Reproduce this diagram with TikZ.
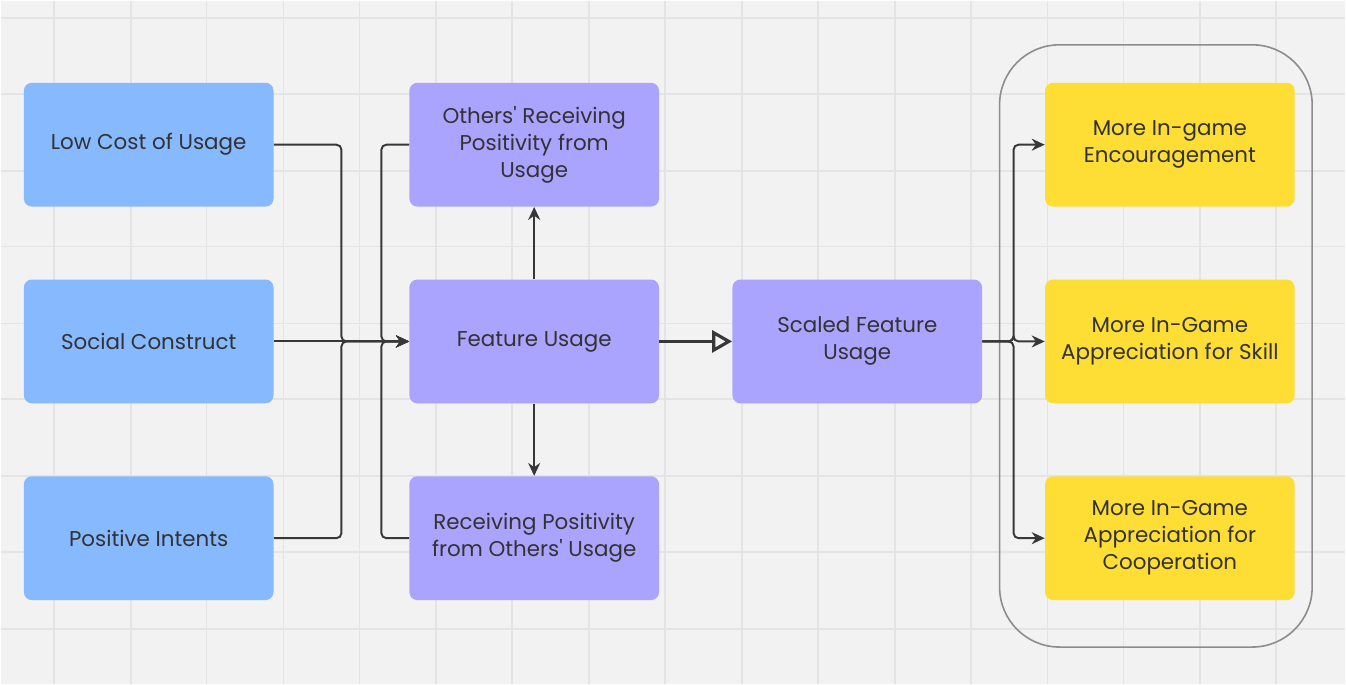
\documentclass[tikz,border=0pt]{standalone}
\usepackage{fontspec}
\setmainfont{Poppins}
\usepackage{tikz}
\usetikzlibrary{arrows.meta}
\usetikzlibrary{positioning}

\definecolor{canvas}{RGB}{242,242,242}
\definecolor{gridline}{RGB}{228,228,228}
\definecolor{boxblue}{RGB}{135,185,255}
\definecolor{boxviolet}{RGB}{171,164,255}
\definecolor{boxyellow}{RGB}{254,221,53}
\definecolor{inktext}{RGB}{50,50,50}
\definecolor{inkline}{RGB}{55,55,55}

\begin{document}
\begin{tikzpicture}
	[x=0.02cm,y=-0.02cm,
	every node/.style={rectangle,rounded corners=0.16cm,minimum width=5cm,minimum height=2.48cm,
		align=center,text=inktext,font=\fontsize{12.2}{15.4}\selectfont,inner sep=0pt},
	cause/.style={fill=boxblue},
	effect/.style={fill=boxviolet},
	outcome/.style={fill=boxyellow},
	link/.style={draw=inkline,line width=1.1pt,rounded corners=0.1cm,-{Stealth[length=0.26cm,width=0.24cm]}}]
	% canvas and grid
	\fill[canvas] (0,0) rectangle (1346,684);
	\foreach \gx in {53,130,206,283,359,436,512,589,665,742,818,895,971,1048,1124,1201,1277}
	\draw[gridline,line width=1pt] (\gx,0) -- (\gx,684);
	\foreach \gy in {17,93,170,246,323,399,476,552,629}
	\draw[gridline,line width=1pt] (0,\gy) -- (1346,\gy);
	% group round the outcomes
	\draw[draw=gray!90,line width=0.9pt,rounded corners=1.2cm] (1000,44) rectangle (1313,647);

	\node[cause] (low) at (148,144) {Low Cost of Usage};
	\node[cause] (social) at (148,341) {Social Construct};
	\node[cause] (intent) at (148,538) {Positive Intents};
	\node[effect] (others) at (534,144) {Others\textquotesingle\ Receiving\\Positivity from\\Usage};
	\node[effect] (usage) at (534,341) {Feature Usage};
	\node[effect] (receive) at (534,538) {Receiving Positivity\\from Others\textquotesingle\ Usage};
	\node[effect] (scaled) at (857.5,341) {Scaled Feature\\Usage};
	\node[outcome] (encour) at (1170.5,144) {More In-game\\Encouragement};
	\node[outcome] (skill) at (1170.5,341) {More In-Game\\Appreciation for Skill};
	\node[outcome] (coop) at (1170.5,538) {More In-Game\\Appreciation for\\Cooperation};

	\coordinate (lowbend) at (341,144);
	\coordinate (intentbend) at (341,538);
	\coordinate (othersbend) at (381,144);
	\coordinate (receivebend) at (381,538);
	\coordinate (splitbend) at (1014,341);

	% inputs into feature usage
	\foreach \from/\via/\side in {low/lowbend/east, intent/intentbend/east, others/othersbend/west, receive/receivebend/west}
	\draw[link] (\from.\side) -- (\via) -- (\via |- usage.west) -- (usage.west);
	\draw[link] (social) -- (usage);
	\draw[link] (usage) -- (others);
	\draw[link] (usage) -- (receive);
	\draw[draw=inkline,line width=2pt,-{Triangle[open,length=0.4cm,width=0.44cm,line width=1.8pt]}] (usage) -- (scaled);
	\foreach \to in {encour,skill,coop}
	\draw[link] (scaled.east) -- (splitbend) -- (splitbend |- \to.west) -- (\to.west);
\end{tikzpicture}
\end{document}
